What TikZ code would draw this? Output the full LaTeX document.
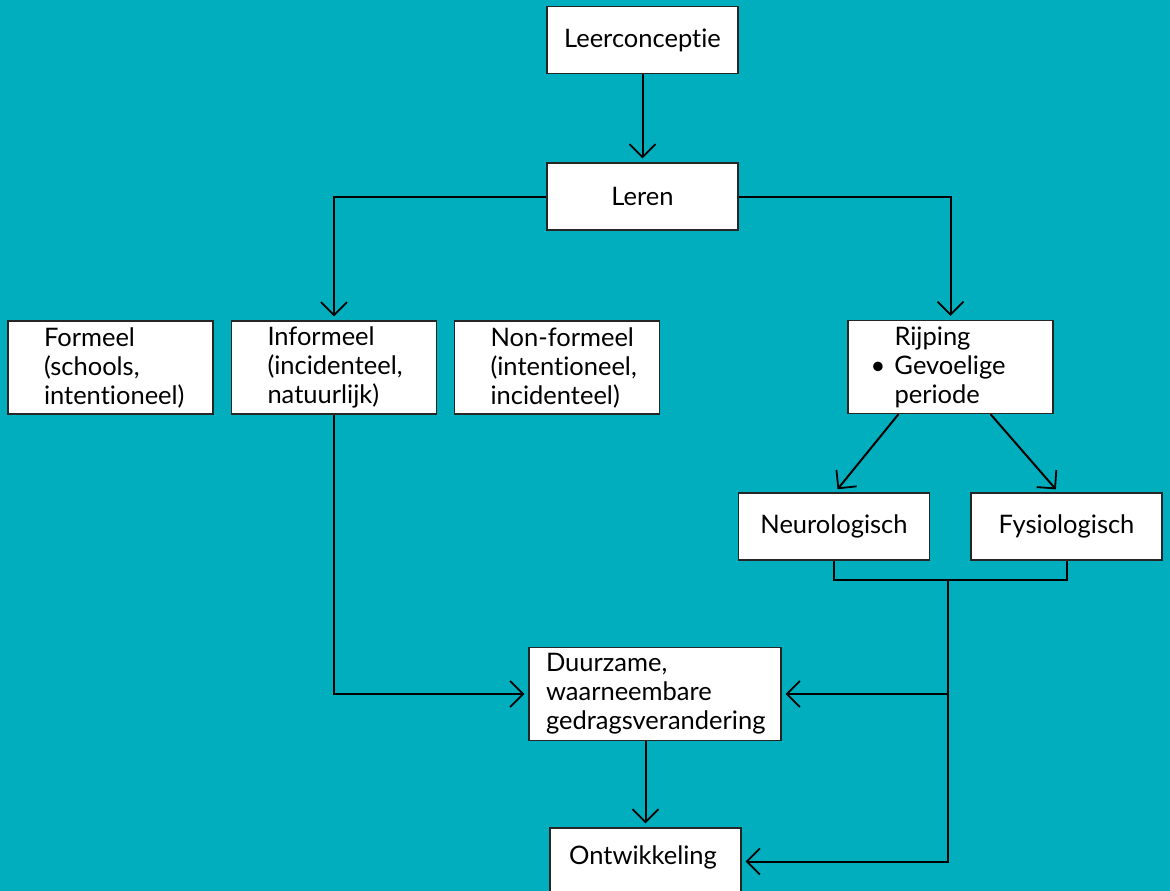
\documentclass[tikz,border=0pt]{standalone}
\usepackage{fontspec}
\setmainfont{Lato}[Ligatures=NoCommon]
\usetikzlibrary{arrows.meta}
\definecolor{teal}{RGB}{0,174,189}

\begin{document}
\begin{tikzpicture}[x=1pt,y=-1pt,
        box/.style={draw=black!85, line width=1.3pt, fill=white, font=\fontsize{25.5}{29}\selectfont},
        single/.style={box, minimum width=191pt, minimum height=67pt, inner sep=0pt},
        multi/.style={box, align=left, minimum height=93pt, inner ysep=2pt},
        arr/.style={line width=2pt, -{Straight Barb[length=13pt,width=26pt,line width=1.8pt]}, shorten >=4pt},
        con/.style={line width=2pt}]
    \fill [teal] (0,0) rectangle (1170,891);
    \useasboundingbox (0,0) rectangle (1170,891);

    \node [single] (leerc) at (642.5,40) {Leerconceptie};
    \node [single] (leren) at (642.5,196.5) {Leren};

    \node [multi, text width=133pt, inner xsep=36pt] (formeel) at (110.5,367.5) {Formeel\\(schools,\\intentioneel)};
    \node [multi, text width=133pt, inner xsep=36pt] (informeel) at (334,367.5) {Informeel\\(incidenteel,\\natuurlijk)};
    \node [multi, text width=133pt, inner xsep=36pt] (nonformeel) at (557,367.5) {\mbox{Non-formeel}\\(intentioneel,\\incidenteel)};
    \node [multi, text width=112pt, inner xsep=46.5pt] (rijping) at (950.5,367) {Rijping\\\makebox[0pt][r]{\textbullet\hspace{9pt}}Gevoelige\\periode};

    \node [single] (neuro) at (834,526.5) {Neurologisch};
    \node [single] (fysio) at (1066.5,526.5) {Fysiologisch};

    \node [multi, text width=218pt, inner xsep=17pt] (duurzaam) at (655,694) {Duurzame,\\waarneembare\\gedragsverandering};
    \node [single] (ontw) at (645.5,861.5) {};
    \node [font=\fontsize{25.5}{29}\selectfont] (ontwtxt) at (643,857) {Ontwikkeling};

    \coordinate (join) at (948,580);

    \draw [arr] (leerc) -- (leren);
    \draw [arr] (leren.west) -| (informeel.north);
    \draw [arr] (leren.east) -| (rijping.north);
    \draw [arr] ([xshift=-52pt]rijping.south) -- ([xshift=1pt]neuro.north);
    \draw [arr] ([xshift=40pt]rijping.south) -- ([xshift=-8pt]fysio.north);

    \draw [con] (neuro.south) |- (join) -| (fysio.south);
    \draw [arr] (join) |- (ontw.east);
    \draw [arr] (join |- duurzaam.east) -- (duurzaam.east);
    \draw [arr] (informeel.south) |- (duurzaam.west);
    \draw [arr] (ontw.north |- duurzaam.south) -- (ontw.north);
\end{tikzpicture}
\end{document}
